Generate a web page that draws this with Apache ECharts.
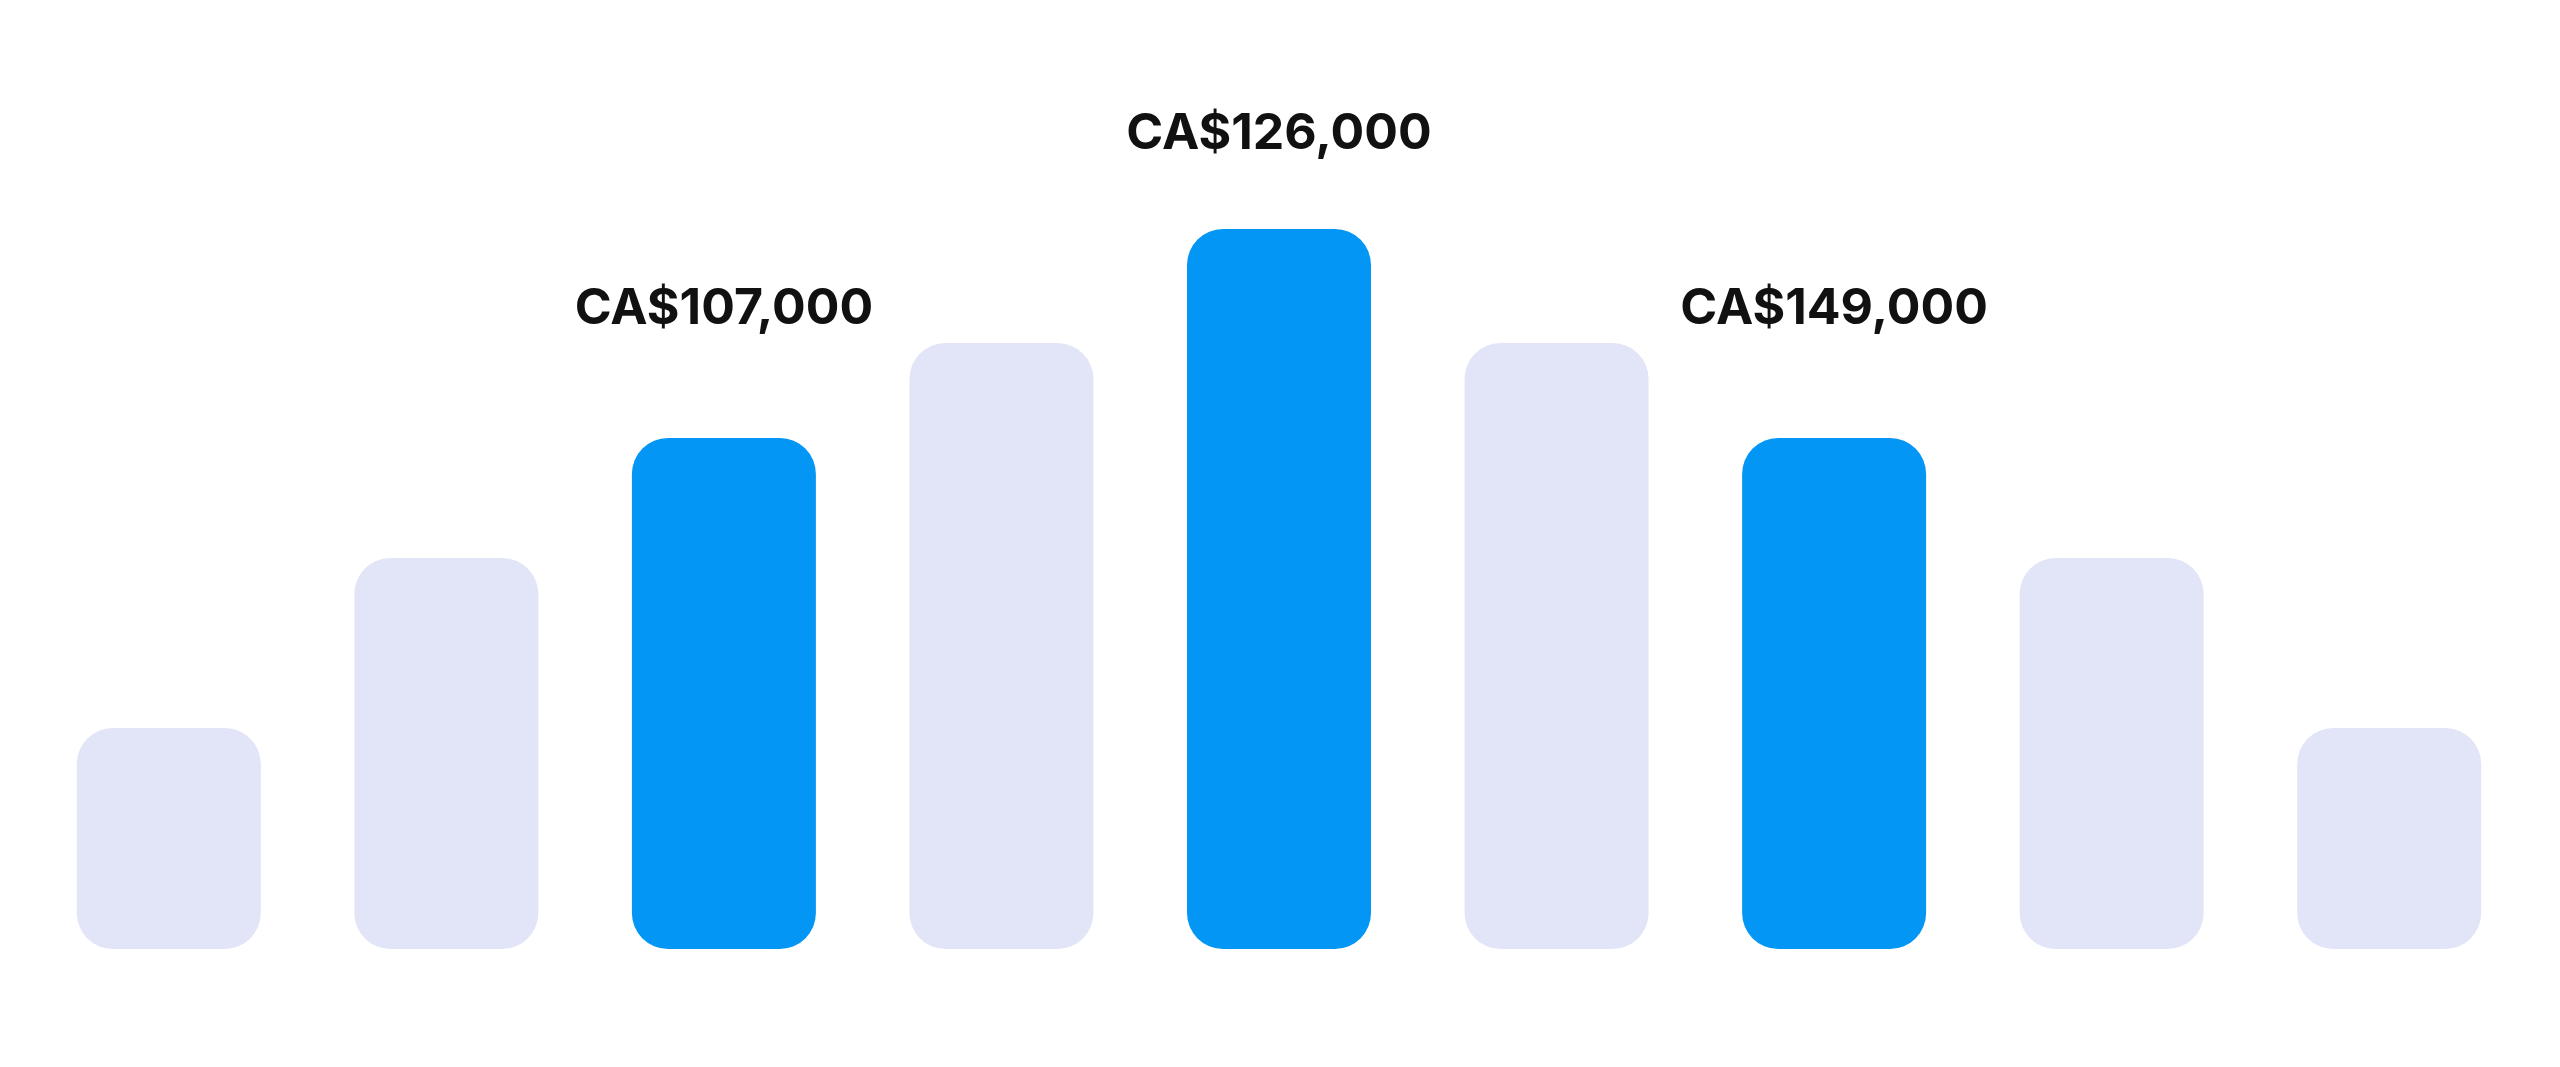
<!DOCTYPE html>
<html>
<head>
<meta charset="utf-8">
<script src="https://cdn.jsdelivr.net/npm/echarts@6/dist/echarts.min.js"></script>
<style>html,body{margin:0;padding:0;background:#fff}#chart{width:2560px;height:1067px}</style>
</head>
<body>
<div id="chart"></div>
<script>
// bar heights (relative units)
const categories = ['b1', 'b2', 'b3', 'b4', 'b5', 'b6', 'b7', 'b8', 'b9'];
const values = [221, 391, 511, 606, 720, 606, 511, 391, 221];
const highlighted = [2, 4, 6];
const labels = { 2: 'CA$107,000', 4: 'CA$126,000', 6: 'CA$149,000' };
const labelGap = { 2: 104, 4: 70, 6: 104 };

const chart = echarts.init(document.getElementById('chart'));
const data = values.map(function (v, i) {
    const hot = highlighted.indexOf(i) >= 0;
    const item = {
        value: v,
        itemStyle: { color: hot ? '#0496F5' : '#E1E5F7', borderRadius: 36 }
    };
    if (labels[i]) {
        item.label = {
            show: true,
            position: 'top',
            distance: labelGap[i],
            formatter: labels[i],
            fontFamily: 'Inter, "Open Sans", sans-serif',
            fontWeight: 'bold',
            fontSize: 50,
            color: '#111'
        };
    }
    return item;
});

chart.setOption({
    animation: false,
    grid: { left: 30, right: 32, top: 149, bottom: 118 },
    xAxis: { type: 'category', data: categories, show: false },
    yAxis: { type: 'value', min: 0, max: 800, show: false },
    series: [{ type: 'bar', data: data, barWidth: 184 }]
});
</script>
</body>
</html>
